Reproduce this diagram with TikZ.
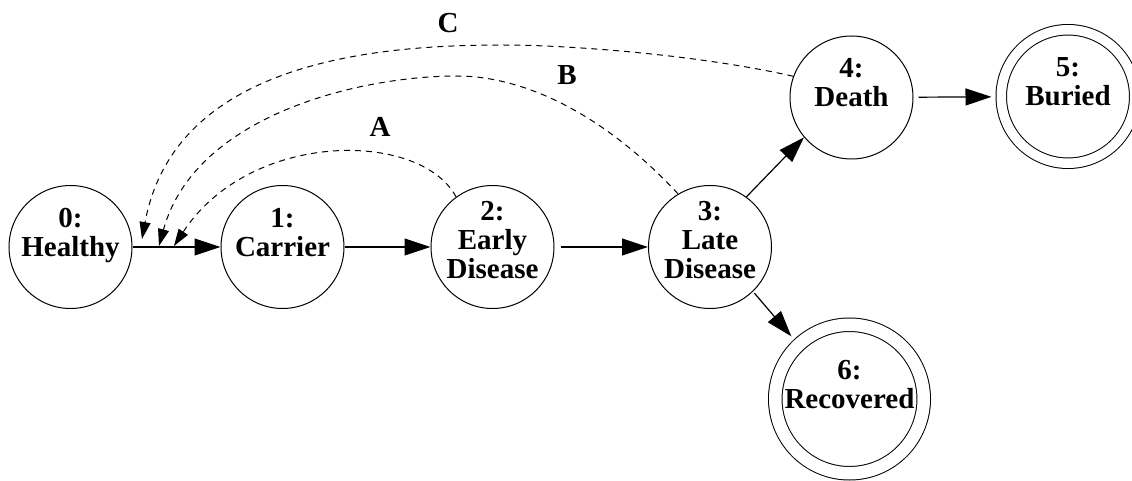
\documentclass[tikz,border=0pt]{standalone}
\usepackage{fontspec}
\setmainfont{Liberation Serif}
\usepackage{tikz}
\usetikzlibrary{arrows.meta}

\begin{document}
\begin{tikzpicture}[x=0.5pt,y=-0.5pt, % 1 unit = 1 pixel, y runs downward
    state/.style={circle,draw,line width=0.5pt,minimum size=61.5pt,inner sep=0pt},
    final/.style={circle,draw,line width=0.5pt,double,inner sep=0pt},
    txt/.style={align=center,font=\bfseries\fontsize{14.5}{14.5}\selectfont,inner sep=0pt},
    edge/.style={line width=0.6pt,-{Triangle[length=13pt,width=8.5pt]}},
    back/.style={line width=0.5pt,dash pattern=on 3pt off 2.5pt,-{Triangle[length=8.5pt,width=5.5pt]}}]
        \useasboundingbox (0,0) rectangle (1132,481);
        % states
        \node[state] (healthy) at (70.5,247) {};
        \node[state] (carrier) at (282.5,247) {};
        \node[state] (early) at (492.5,247) {};
        \node[state] (late) at (710,247) {};
        \node[state] (death) at (851.5,97.5) {};
        \node[final,minimum size=66.75pt,double distance=4.75pt,outer sep=2.875pt] (buried) at (1068,96.5) {};
        \node[final,minimum size=74.25pt,double distance=6.25pt,outer sep=3.625pt] (recovered) at (849.5,399) {};
        % state texts
        \node[txt,yshift=5.8pt] (t0) at (healthy) {0:\\Healthy};
        \node[txt,yshift=7.3pt] (t1) at (carrier) {1:\\Carrier};
        \node[txt,yshift=3.5pt] (t2) at (early) {2:\\Early\\Disease};
        \node[txt,yshift=3.5pt] (t3) at (late) {3:\\Late\\Disease};
        \node[txt,yshift=7.3pt] (t4) at (death) {4:\\Death};
        \node[txt,yshift=7.3pt] (t5) at (buried) {5:\\Buried};
        \node[txt,yshift=7.3pt] (t6) at (recovered) {6:\\Recovered};
        % forward transitions
        \draw[edge] (healthy) -- (carrier);
        \draw[edge] (carrier) -- (early);
        \draw[edge,shorten <=3pt] (early) -- (late);
        \draw[edge] (late.54) -- (death.220);
        \draw[edge,shorten <=1pt,shorten >=2pt] (late.314) -- (recovered.133);
        \draw[edge,shorten <=2.5pt,shorten >=2pt] (death) -- (buried);
        % transitions back to 0
        \coordinate (tipA) at (174,246);
        \coordinate (tipB) at (159,246);
        \coordinate (tipC) at (142,239);
        \draw[back] (early.126) .. controls (420,130) and (250,130) .. (tipA);
        \draw[back] (late.121) .. controls (600,110) and (520,76) .. (457,76) .. controls (360,76) and (195,115) .. (tipB);
        \draw[back] (death.160) .. controls (700,55) and (570,45) .. (503,45) .. controls (380,45) and (175,60) .. (tipC);
        \node[txt] (labA) at (380,127) {A};
        \node[txt] (labB) at (567,75) {B};
        \node[txt] (labC) at (448,23) {C};
\end{tikzpicture}
\end{document}
